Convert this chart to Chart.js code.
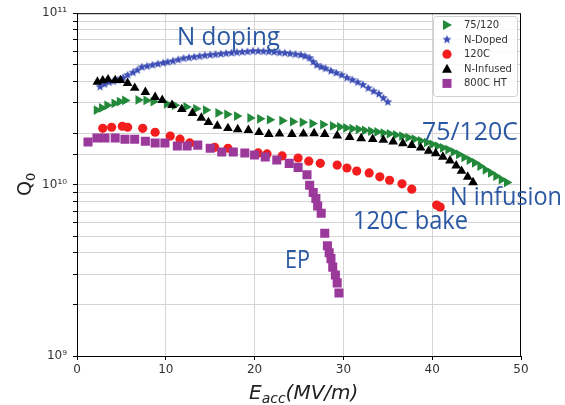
<!DOCTYPE html>
<html>
<head>
<meta charset="utf-8">
<script src="https://cdn.jsdelivr.net/npm/chart.js@4"></script>
<style>
  html, body { margin: 0; padding: 0; background: #fff; }
  #wrap { width: 565px; height: 405px; }
</style>
</head>
<body>
<div id="wrap"><canvas id="q0Chart" width="565" height="405"></canvas></div>
<script>
// Q0 vs Eacc (Q in units of 1e10)
const e75 = [2.2, 2.8, 3.4, 4.2, 4.8, 5.4, 6.9, 7.8, 8.6, 10.1, 11.0, 12.3, 13.4, 14.5, 15.9, 16.9, 18.0, 19.5, 20.6, 21.7, 23.1, 24.3, 25.4, 26.5, 27.7, 28.8, 29.6, 30.3, 31.0, 31.7, 32.4, 33.1, 33.8, 34.5, 35.2, 35.9, 36.6, 37.3, 38.0, 38.7, 39.4, 40.0, 40.6, 41.2, 41.8, 42.4, 43.0, 43.6, 44.2, 44.8, 45.4, 46.0, 46.6, 47.2, 47.8, 48.4];
const q75 = [2.72, 2.8, 2.9, 2.98, 3.05, 3.1, 3.12, 3.1, 3.05, 2.96, 2.9, 2.84, 2.77, 2.72, 2.62, 2.57, 2.51, 2.45, 2.42, 2.39, 2.36, 2.33, 2.31, 2.27, 2.24, 2.2, 2.17, 2.14, 2.12, 2.1, 2.07, 2.05, 2.03, 2.0, 1.98, 1.95, 1.92, 1.88, 1.84, 1.8, 1.76, 1.72, 1.68, 1.64, 1.6, 1.55, 1.5, 1.44, 1.39, 1.34, 1.28, 1.22, 1.17, 1.12, 1.07, 1.03];

const eDoped = [2.6, 3.1, 3.6, 4.1, 4.6, 5.2, 5.7, 6.3, 6.8, 7.3, 7.9, 8.5, 9.1, 9.7, 10.2, 10.8, 11.4, 12.0, 12.6, 13.2, 13.8, 14.4, 15.0, 15.6, 16.2, 16.8, 17.4, 18.0, 18.6, 19.2, 19.8, 20.4, 21.0, 21.6, 22.2, 22.8, 23.4, 24.0, 24.6, 25.2, 25.7, 26.2, 26.6, 27.0, 27.5, 28.0, 28.6, 29.2, 29.8, 30.4, 31.0, 31.6, 32.2, 32.8, 33.4, 34.0, 34.5, 35.0];
const qDoped = [3.72, 3.85, 3.95, 4.0, 4.06, 4.2, 4.35, 4.5, 4.65, 4.84, 4.9, 4.98, 5.05, 5.12, 5.18, 5.25, 5.35, 5.45, 5.5, 5.55, 5.6, 5.66, 5.7, 5.74, 5.78, 5.82, 5.86, 5.9, 5.93, 5.96, 6.0, 6.0, 5.98, 5.96, 5.93, 5.88, 5.85, 5.8, 5.75, 5.7, 5.6, 5.47, 5.2, 4.97, 4.85, 4.75, 4.6, 4.48, 4.35, 4.2, 4.08, 3.95, 3.82, 3.65, 3.5, 3.38, 3.2, 3.03];

const e120 = [2.9, 3.9, 5.1, 5.7, 7.4, 8.8, 10.5, 11.6, 12.7, 15.5, 17.0, 20.4, 21.4, 23.1, 24.9, 26.1, 27.4, 29.3, 30.4, 31.5, 32.9, 34.1, 35.2, 36.6, 37.7, 40.5, 40.9];
const q120 = [2.13, 2.16, 2.19, 2.16, 2.13, 2.02, 1.92, 1.84, 1.75, 1.65, 1.63, 1.53, 1.51, 1.47, 1.43, 1.37, 1.33, 1.3, 1.25, 1.2, 1.17, 1.11, 1.06, 1.01, 0.94, 0.76, 0.74];

const eInfused = [2.3, 2.9, 3.5, 4.3, 4.9, 5.7, 6.5, 7.7, 8.8, 9.6, 10.7, 11.8, 13.0, 14.0, 14.8, 15.8, 17.0, 18.1, 19.3, 20.5, 21.6, 22.8, 24.2, 25.5, 26.7, 27.9, 29.3, 30.7, 32.0, 33.3, 34.5, 35.6, 36.7, 37.7, 38.7, 39.6, 40.4, 41.2, 42.0, 42.7, 43.3, 44.0, 44.6];
const qInfused = [3.97, 4.05, 4.1, 4.06, 4.06, 3.91, 3.66, 3.46, 3.24, 3.11, 2.91, 2.75, 2.61, 2.45, 2.31, 2.2, 2.13, 2.1, 2.08, 2.02, 1.97, 1.98, 1.97, 1.98, 1.99, 1.97, 1.93, 1.89, 1.86, 1.84, 1.82, 1.78, 1.74, 1.7, 1.64, 1.57, 1.52, 1.45, 1.38, 1.29, 1.2, 1.11, 1.03];

const e800 = [1.24, 2.25, 3.15, 4.3, 5.4, 6.5, 7.7, 8.8, 9.9, 11.3, 12.4, 13.6, 15.0, 16.3, 17.6, 18.9, 20.0, 21.2, 22.5, 23.9, 24.9, 25.9, 26.2, 26.6, 26.9, 27.1, 27.5, 27.9, 28.2, 28.4, 28.6, 28.8, 29.1, 29.3, 29.5];
const q800 = [1.77, 1.87, 1.87, 1.87, 1.84, 1.84, 1.79, 1.75, 1.75, 1.68, 1.68, 1.70, 1.63, 1.55, 1.55, 1.53, 1.49, 1.45, 1.39, 1.33, 1.26, 1.14, 0.99, 0.90, 0.83, 0.75, 0.68, 0.52, 0.44, 0.40, 0.37, 0.33, 0.297, 0.267, 0.233];

const seriesNames = ['75/120', 'N-Doped', '120C', 'N-Infused', '800C HT'];
const xTicks = [0, 10, 20, 30, 40, 50];
const yTickLabels = { 1e9: '10⁹', 1e10: '10¹⁰', 1e11: '10¹¹' };
const notes = ['N doping', '75/120C', 'N infusion', '120C bake', 'EP'];

function pts(es, qs) {
    return es.map((e, i) => ({ x: e, y: qs[i] * 1e10 }));
}

// filled five point star for the N-Doped markers
function starCanvas(color, r) {
    const c = document.createElement('canvas');
    const s = Math.ceil(r * 2 + 2);
    c.width = s; c.height = s;
    const g = c.getContext('2d');
    g.fillStyle = color;
    g.beginPath();
    for (let i = 0; i < 10; i++) {
        const rad = i % 2 === 0 ? r : r * 0.45;
        const a = -Math.PI / 2 + i * Math.PI / 5;
        g.lineTo(s / 2 + rad * Math.cos(a), s / 2 + rad * Math.sin(a));
    }
    g.closePath();
    g.fill();
    return c;
}

const colGreen = '#23893a';
const colBlue = '#3c4db5';
const colRed = '#f31d1d';
const colBlack = '#000000';
const colPurple = '#9b399b';
const star = starCanvas(colBlue, 4.6);

function markerSet(label, data, color, style, radius, rot, order) {
    return {
        label: label, data: data, showLine: false, order: order,
        pointStyle: style, pointRadius: radius, pointRotation: rot,
        pointBackgroundColor: color, pointBorderColor: color, pointBorderWidth: 0,
        pointHoverRadius: radius
    };
}

// legend box inside the plot, drawn by hand like matplotlib's
const legendPlugin = {
    id: 'mplLegend',
    afterDraw(chart) {
        const c = chart.ctx;
        const bx = 433, by = 16, bw = 84, bh = 80;
        c.save();
        c.fillStyle = 'rgba(255,255,255,0.85)';
        c.strokeStyle = '#d0d0d0';
        c.lineWidth = 1;
        c.beginPath();
        c.roundRect(bx + 0.5, by + 0.5, bw, bh, 3);
        c.fill();
        c.stroke();
        const cols = [colGreen, colBlue, colRed, colBlack, colPurple];
        c.font = '10px "DejaVu Sans"';
        c.textBaseline = 'middle';
        for (let i = 0; i < seriesNames.length; i++) {
            const y = 25 + i * 14.6, x = 447;
            c.fillStyle = cols[i];
            c.beginPath();
            if (i === 0) { c.moveTo(x - 4, y - 5); c.lineTo(x + 5, y); c.lineTo(x - 4, y + 5); c.closePath(); c.fill(); }
            else if (i === 1) { c.drawImage(star, x - star.width / 2, y - star.height / 2); }
            else if (i === 2) { c.arc(x, y, 4.6, 0, Math.PI * 2); c.fill(); }
            else if (i === 3) { c.moveTo(x, y - 5); c.lineTo(x + 5, y + 4); c.lineTo(x - 5, y + 4); c.closePath(); c.fill(); }
            else { c.fillRect(x - 4.5, y - 4.5, 9, 9); }
            c.fillStyle = '#333';
            c.fillText(seriesNames[i], 464, y + 0.5);
        }
        c.restore();
    }
};

// frame, blue notes and axis titles
const decorPlugin = {
    id: 'decor',
    afterDatasetsDraw(chart) {
        const c = chart.ctx, a = chart.chartArea;
        c.save();
        c.strokeStyle = '#000';
        c.lineWidth = 1;
        c.strokeRect(a.left + 0.5, a.top + 0.5, a.right - a.left - 1, a.bottom - a.top);
        c.restore();
    },
    afterDraw(chart) {
        const c = chart.ctx;
        c.save();
        c.fillStyle = '#2b58a2';
        c.font = '25px "Open Sans"';
        c.textBaseline = 'alphabetic';
        const spots = [[177, 45, 103], [422, 140, 96], [450, 205, 112], [353, 229, 115], [285, 268, 25]];
        notes.forEach((t, i) => c.fillText(t, spots[i][0], spots[i][1], spots[i][2]));

        // x title: E_acc(MV/m)
        c.fillStyle = '#222';
        c.font = 'italic 20px "DejaVu Sans"';
        let x = 249;
        c.fillText('E', x, 399);
        x += c.measureText('E').width;
        c.font = 'italic 14px "DejaVu Sans"';
        c.fillText('acc', x, 403);
        x += c.measureText('acc').width;
        c.font = 'italic 20px "DejaVu Sans"';
        c.fillText('(MV/m)', x, 399);

        // y title: Q0
        c.translate(31, 185);
        c.rotate(-Math.PI / 2);
        c.font = '19px "DejaVu Sans"';
        c.textAlign = 'left';
        const qw = c.measureText('Q').width;
        c.fillText('Q', -11, 0);
        c.font = '13px "DejaVu Sans"';
        c.fillText('0', -11 + qw, 4);
        c.restore();
    }
};

const chart = new Chart(document.getElementById('q0Chart'), {
    type: 'scatter',
    data: {
        datasets: [
            markerSet(seriesNames[0], pts(e75, q75), colGreen, 'triangle', 5.6, 90, 5),
            markerSet(seriesNames[1], pts(eDoped, qDoped), colBlue, star, 5, 0, 4),
            markerSet(seriesNames[2], pts(e120, q120), colRed, 'circle', 4.6, 0, 3),
            markerSet(seriesNames[3], pts(eInfused, qInfused), colBlack, 'triangle', 5.6, 0, 2),
            markerSet(seriesNames[4], pts(e800, q800), colPurple, 'rect', 6.4, 0, 1)
        ]
    },
    options: {
        responsive: false,
        animation: false,
        events: [],
        layout: { padding: { top: 13, right: 44, left: 0, bottom: 0 } },
        plugins: { legend: { display: false }, tooltip: { enabled: false } },
        scales: {
            x: {
                type: 'linear', min: 0, max: 50,
                afterBuildTicks: (s) => { s.ticks = xTicks.map(v => ({ value: v })); },
                afterFit: (s) => { s.height = 49; },
                grid: {
                    color: (ctx) => (ctx.tick && (ctx.tick.value === 0 || ctx.tick.value === 50)) ? 'rgba(0,0,0,0)' : '#d4d4d4',
                    tickColor: '#000', tickLength: 4, lineWidth: 1
                },
                border: { color: '#000', width: 1 },
                ticks: { color: '#333', padding: 3, font: { family: 'DejaVu Sans', size: 12 } }
            },
            y: {
                type: 'logarithmic', min: 1e9, max: 1e11,
                afterFit: (s) => { s.width = 77; },
                grid: { color: '#d4d4d4', tickColor: '#000', tickLength: 4, lineWidth: 1 },
                border: { color: '#000', width: 1 },
                ticks: {
                    autoSkip: false, color: '#333', padding: 6,
                    font: { family: 'DejaVu Sans', size: 12 },
                    callback: (v) => yTickLabels[v] || ''
                }
            }
        }
    },
    plugins: [decorPlugin, legendPlugin]
});
</script>
</body>
</html>
